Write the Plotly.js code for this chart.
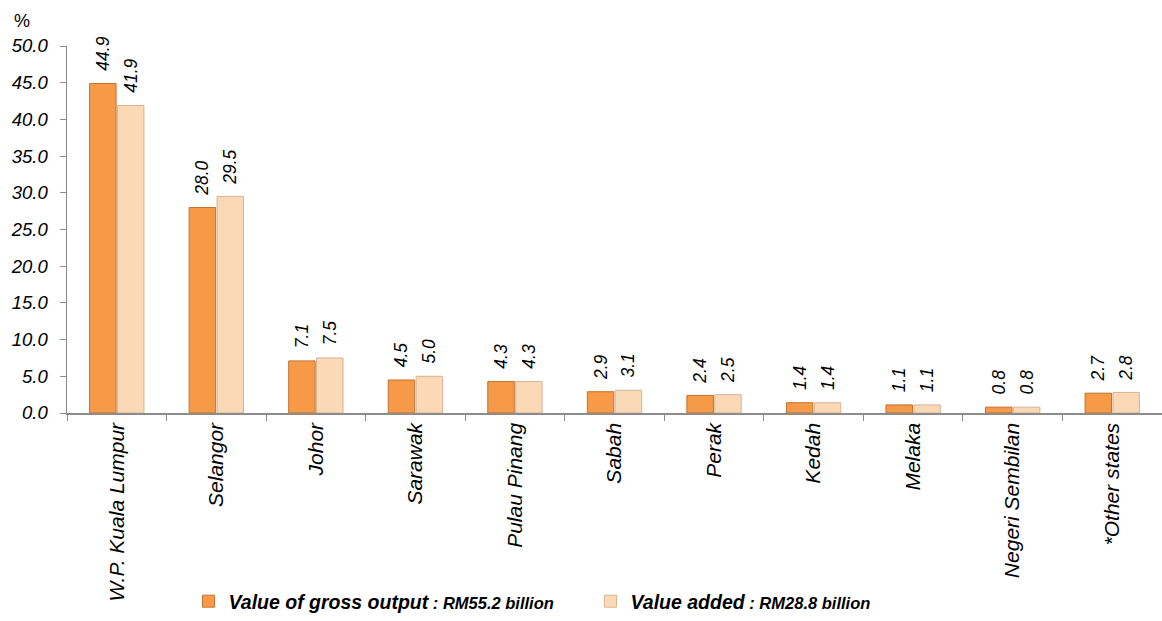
<!DOCTYPE html>
<html>
<head>
<meta charset="utf-8">
<script src="https://cdn.plot.ly/plotly-3.0.1.min.js"></script>
<style>html,body{margin:0;padding:0;background:#fff;}#chart{width:1162px;height:621px;}</style>
</head>
<body>
<div id="chart"></div>
<script>
const categories = ["W.P. Kuala Lumpur","Selangor","Johor","Sarawak","Pulau Pinang","Sabah","Perak","Kedah","Melaka","Negeri Sembilan","*Other states"];
const grossOutput = [44.9,28.0,7.1,4.5,4.3,2.9,2.4,1.4,1.1,0.8,2.7];
const valueAdded = [41.9,29.5,7.5,5.0,4.3,3.1,2.5,1.4,1.1,0.8,2.8];
const seriesNames = [
  '<b><i>Value of gross output</i></b><span style="font-size:16.5px"><b><i> : RM55.2 billion</i></b></span>',
  '<b><i>Value added</i></b><span style="font-size:16.5px"><b><i> : RM28.8 billion</i></b></span>'
];
const yTicks = [0,5,10,15,20,25,30,35,40,45,50];
const yTickText = ["0.0","5.0","10.0","15.0","20.0","25.0","30.0","35.0","40.0","45.0","50.0"];

const fontFam = '"Liberation Sans", Arial, sans-serif';
const labelFont = {family: fontFam, size: 17.5, color: '#000', style: 'italic'};
const pad = '\u00A0\u00A0';

const traces = [
  {
    type: 'bar', x: categories, y: grossOutput, name: seriesNames[0],
    marker: {color: '#F79A48', line: {color: '#C27330', width: 1}},
    text: grossOutput.map(v => pad + v.toFixed(1)), textposition: 'outside', textangle: -90,
    textfont: labelFont, cliponaxis: false, constraintext: 'none', hoverinfo: 'x+y'
  },
  {
    type: 'bar', x: categories, y: valueAdded, name: seriesNames[1],
    marker: {color: '#FBD8B6', line: {color: '#D6B593', width: 1}},
    text: valueAdded.map(v => pad + v.toFixed(1)), textposition: 'outside', textangle: -90,
    textfont: labelFont, cliponaxis: false, constraintext: 'none', hoverinfo: 'x+y'
  }
];

const layout = {
  width: 1162, height: 621,
  margin: {l: 67, r: 0, t: 46, b: 207},
  paper_bgcolor: '#fff', plot_bgcolor: '#fff',
  barmode: 'group', bargap: 0.44, bargroupgap: 0.05,
  showlegend: true,
  legend: {
    orientation: 'h', x: 0.111, xanchor: 'left', y: -0.512, yanchor: 'middle',
    font: {family: fontFam, size: 19.5, color: '#000'},
    entrywidth: 357, entrywidthmode: 'pixels', itemwidth: 30, traceorder: 'normal'
  },
  xaxis: {
    type: 'category', tickangle: -90, tickson: 'boundaries',
    ticks: 'outside', ticklen: 6, tickcolor: '#8c8c8c', tickwidth: 1,
    showline: true, linecolor: '#8c8c8c', linewidth: 1.5,
    showgrid: false, zeroline: false, automargin: false,
    tickfont: {family: fontFam, size: 21, color: '#000', style: 'italic'},
    fixedrange: true
  },
  yaxis: {
    range: [0, 50], tickmode: 'array', tickvals: yTicks, ticktext: yTickText,
    ticks: 'outside', ticklen: 6, tickcolor: '#8c8c8c', tickwidth: 1,
    ticklabelstandoff: 8,
    showline: true, linecolor: '#8c8c8c', linewidth: 1.5,
    showgrid: false, zeroline: false, automargin: false,
    tickfont: {family: fontFam, size: 18.5, color: '#000', style: 'italic'},
    fixedrange: true
  },
  annotations: [
    {text: '%', xref: 'paper', yref: 'paper', x: -0.05, y: 1.035, xanchor: 'left', yanchor: 'bottom',
     showarrow: false, font: {family: fontFam, size: 18, color: '#000'}}
  ]
};

Plotly.newPlot('chart', traces, layout, {displayModeBar: false, staticPlot: true});
</script>
</body>
</html>
